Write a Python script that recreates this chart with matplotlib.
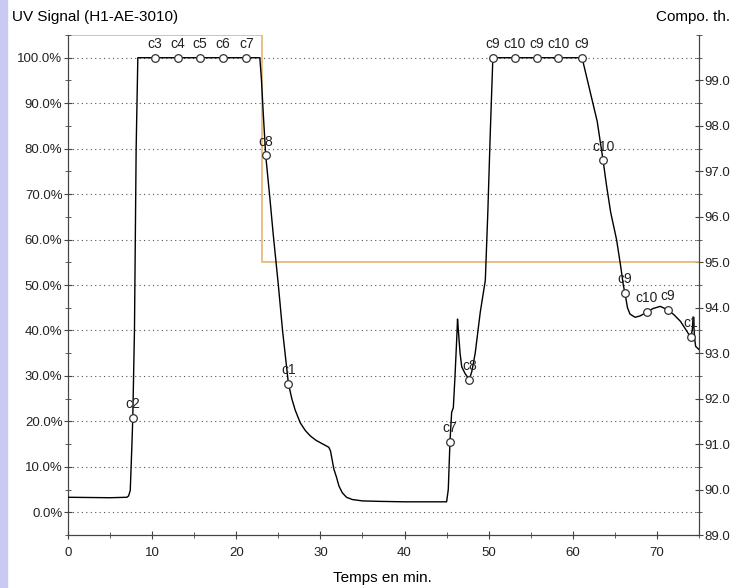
import numpy as np
import matplotlib.pyplot as plt
from matplotlib.ticker import MultipleLocator, FuncFormatter

plt.rcParams['font.family'] = ['Liberation Sans', 'DejaVu Sans']
plt.rcParams['font.size'] = 9.5

# UV signal curve (time in min, signal in %)
time = [0, 5, 7.0, 7.2, 7.4, 7.6, 7.7, 7.9, 8.1, 8.3,
        22.8, 23.0, 23.2, 23.5, 24.0, 24.4, 25.0, 25.5, 26.2, 26.6,
        27.0, 27.6, 28.2, 28.8, 29.5, 30.3, 31.0, 31.2, 31.4, 31.6,
        31.9, 32.2, 32.6, 33.1, 33.8, 35.0, 37.0, 40.0, 45.0, 45.2,
        45.4, 45.6, 45.8, 46.0, 46.2, 46.3, 46.4, 46.6, 46.8, 47.2,
        47.7, 48.0, 48.4, 49.0, 49.6, 49.9, 50.2, 50.5, 61.1, 62.0,
        62.9, 63.6, 64.0, 64.5, 65.2, 65.7, 66.0, 66.2, 66.5, 66.8,
        67.4, 68.0, 68.8, 69.5, 70.4, 71.3, 72.0, 72.8, 73.5, 74.0,
        74.2, 74.3, 74.5, 74.6, 75.0]
uv = [3.3, 3.2, 3.3, 3.6, 4.8, 15, 20.8, 40, 80, 100,
      100, 95, 88, 78.5, 69, 61, 50, 40, 28.3, 25,
      22.5, 19.7, 18.0, 16.8, 15.8, 15.0, 14.3, 13.5, 11.5, 9.5,
      7.8, 5.8, 4.3, 3.3, 2.8, 2.5, 2.4, 2.3, 2.3, 5,
      15.5, 22, 23, 30, 38, 42.5, 40, 35, 32, 30.5,
      29.2, 31, 35, 44, 51, 66, 84, 100, 100, 93,
      86, 77.4, 72, 66, 60, 54, 50, 48.2, 45, 43.6,
      42.9, 43.2, 44.0, 44.8, 45.3, 44.5, 43.5, 42.0, 40.0, 38.5,
      40, 43, 38, 36.5, 35.8]

# fraction markers
mark_t = [7.7, 10.3, 13.1, 15.7, 18.4, 21.2, 23.5, 26.2,
          45.4, 47.7, 50.5, 53.1, 55.7, 58.3, 61.1, 63.6, 66.2, 68.8, 71.3, 74.0]
mark_v = [20.8, 100, 100, 100, 100, 100, 78.5, 28.3,
          15.5, 29.2, 100, 100, 100, 100, 100, 77.4, 48.2, 44.0, 44.5, 38.5]
mark_lbl = ['c2', 'c3', 'c4', 'c5', 'c6', 'c7', 'c8', 'c1',
            'c7', 'c8', 'c9', 'c10', 'c9', 'c10', 'c9', 'c10', 'c9', 'c10', 'c9', 'c1']

# theoretical composition (right axis)
comp_t = [0, 23.1, 23.1, 75]
comp_v = [100, 100, 95, 95]

fig = plt.figure(figsize=(7.36, 5.88), dpi=100)
fig.patches.append(plt.Rectangle((0, 0), 7 / 736, 1, transform=fig.transFigure,
                                 color='#c9c9f4', zorder=0))
ax = fig.add_axes([68 / 736, 1 - 535 / 588, (699 - 68) / 736, (535 - 35) / 588])
ax2 = ax.twinx()

spine_c = '#444444'
for a in (ax, ax2):
    a.spines['top'].set_visible(False)
    for s in ('left', 'right', 'bottom'):
        a.spines[s].set_color(spine_c)
    a.tick_params(which='both', direction='inout', colors=spine_c, labelcolor='#222222')
    a.tick_params(which='major', length=6)
    a.tick_params(which='minor', length=5)

ax.set_xlim(0, 75)
ax.set_ylim(-5, 105)
ax.xaxis.set_major_locator(MultipleLocator(10))
ax.xaxis.set_minor_locator(MultipleLocator(5))
ax.yaxis.set_major_locator(MultipleLocator(10))
ax.yaxis.set_minor_locator(MultipleLocator(5))
ax.yaxis.set_major_formatter(FuncFormatter(lambda v, p: f'{v:.1f}%'))
ax.set_yticks(np.arange(0, 101, 10))
ax.tick_params(axis='x', pad=6)
ax.tick_params(axis='y', pad=1)

ax2.set_ylim(89, 100)
ax2.set_yticks(np.arange(89, 100, 1))
ax2.yaxis.set_minor_locator(MultipleLocator(0.5))
ax2.yaxis.set_major_formatter(FuncFormatter(lambda v, p: f'{v:.1f}'))
ax2.tick_params(axis='y', pad=1)

for g in np.arange(0, 101, 10):
    ax.axhline(g, color='#555555', lw=0.8, ls=(0, (1, 3)), zorder=1)

ax2.plot(comp_t, comp_v, color='#e2b574', lw=1.2, zorder=2)
ax.set_zorder(ax2.get_zorder() + 1)
ax.patch.set_visible(False)

ax.plot(time, uv, color='black', lw=1.0, zorder=3)
ax.plot(mark_t, mark_v, 'o', ms=5.5, mfc='white', mec='#333333', mew=0.9, zorder=4)
for t, v, l in zip(mark_t, mark_v, mark_lbl):
    ax.annotate(l, (t, v), xytext=(0, 10), textcoords='offset points',
                ha='center', va='center', fontsize=10, color='#222222', zorder=5)

fig.text(12 / 736, 1 - 17 / 588, 'UV Signal (H1-AE-3010)', ha='left', va='center', fontsize=11)
fig.text(730 / 736, 1 - 17 / 588, 'Compo. th.', ha='right', va='center', fontsize=11)
fig.text(382 / 736, 1 - 578 / 588, 'Temps en min.', ha='center', va='center', fontsize=11)

fig.savefig('out.png', dpi=100)
